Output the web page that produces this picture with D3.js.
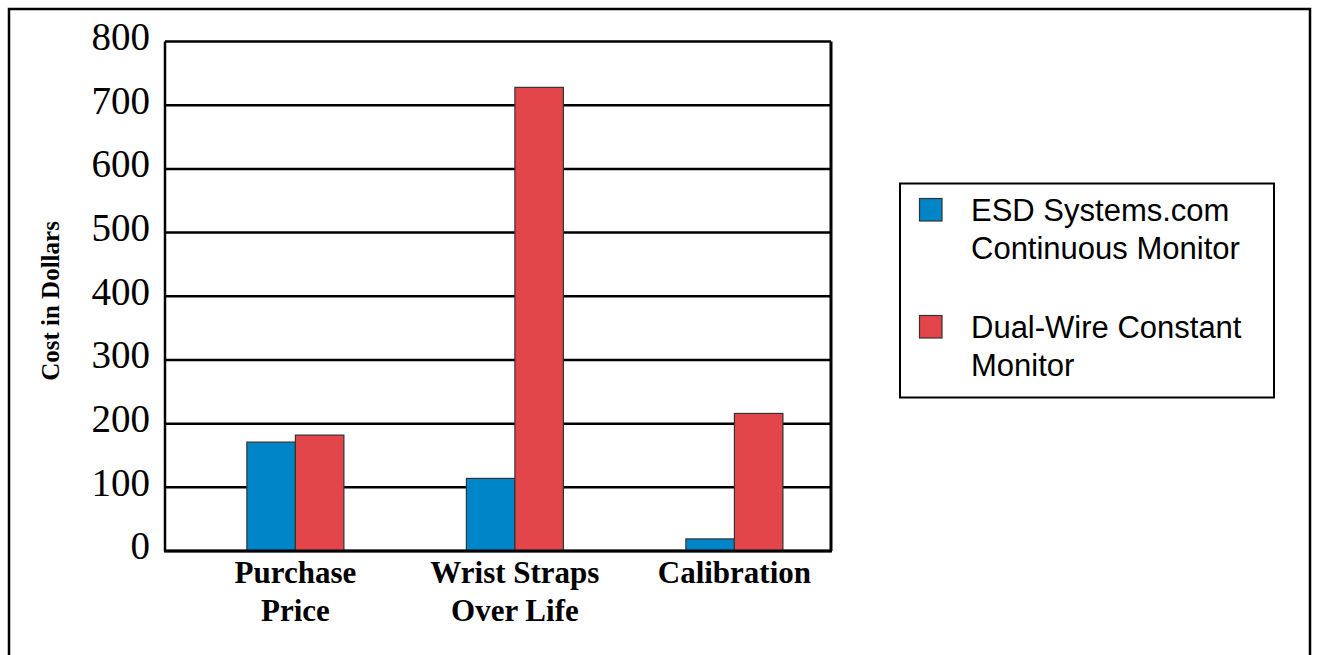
<!DOCTYPE html>
<html>
<head>
<meta charset="utf-8">
<script src="https://cdn.jsdelivr.net/npm/d3@7"></script>
<style>
  body { margin: 0; background: white; }
</style>
</head>
<body>
<svg width="1319" height="655"></svg>
<script>
const categories = [["Purchase", "Price"], ["Wrist Straps", "Over Life"], ["Calibration"]]
const seriesNames = [["ESD Systems.com", "Continuous Monitor"], ["Dual-Wire Constant", "Monitor"]]
const esdValues = [171, 114, 19]
const dualWireValues = [182, 728, 216]
const yTicks = [0, 100, 200, 300, 400, 500, 600, 700, 800]
const colors = ['#0085c9', '#e3464a']

const svg = d3.select('svg')
const width = +svg.attr('width')
const height = +svg.attr('height')

// outer frame (bottom edge runs off the page)
svg.append('rect')
    .attr('x', 9).attr('y', 9)
    .attr('width', width - 18).attr('height', height + 10)
    .attr('fill', 'white').attr('stroke', 'black').attr('stroke-width', 2.5)

const margin = {top: 41.5, left: 165, right: 488, bottom: 104}
const innerWidth = width - margin.left - margin.right
const innerHeight = height - margin.top - margin.bottom

const catKeys = categories.map(c => c.join(' '))
const data = catKeys.map((k, i) => ({key: k, values: [esdValues[i], dualWireValues[i]]}))

const xScale = d3.scaleBand()
    .domain(catKeys)
    .range([0, innerWidth])
    .paddingInner(0.558)
    .paddingOuter(0.296)
    .align(0.63)

const subScale = d3.scaleBand()
    .domain([0, 1])
    .range([0, xScale.bandwidth()])

const yScale = d3.scaleLinear()
    .domain([0, 800])
    .range([innerHeight, 0])

const g = svg.append('g')
    .attr('transform', `translate(${margin.left},${margin.top})`)

// gridlines
g.append('g').selectAll('line')
    .data(yTicks)
    .enter().append('line')
    .attr('x1', 0).attr('x2', innerWidth)
    .attr('y1', d => yScale(d)).attr('y2', d => yScale(d))
    .attr('stroke', 'black').attr('stroke-width', 2.5)

// bars
const groups = g.selectAll('.grp')
    .data(data)
    .enter().append('g')
    .attr('transform', d => `translate(${xScale(d.key)},0)`)

groups.selectAll('rect')
    .data(d => d.values)
    .enter().append('rect')
    .attr('x', (d, i) => subScale(i))
    .attr('y', d => yScale(d))
    .attr('width', subScale.bandwidth())
    .attr('height', d => innerHeight - yScale(d))
    .attr('fill', (d, i) => colors[i])
    .attr('stroke', '#333').attr('stroke-width', 1.2)

// frame: left and right sides
g.append('line').attr('x1', 0).attr('x2', 0).attr('y1', 0).attr('y2', innerHeight)
    .attr('stroke', 'black').attr('stroke-width', 2.5)
g.append('line').attr('x1', innerWidth).attr('x2', innerWidth).attr('y1', 0).attr('y2', innerHeight)
    .attr('stroke', 'black').attr('stroke-width', 3)
g.append('line').attr('x1', -1).attr('x2', innerWidth + 1).attr('y1', innerHeight).attr('y2', innerHeight)
    .attr('stroke', 'black').attr('stroke-width', 3)

// y tick labels
const yAxis = g.append('g').call(d3.axisLeft(yScale).tickValues(yTicks).tickSize(0).tickPadding(15))
yAxis.select('.domain').remove()
yAxis.selectAll('text')
    .attr('font-family', '"Liberation Serif", "Times New Roman", serif')
    .attr('font-size', 39)
    .attr('fill', 'black')
    .attr('dy', '0.2em')

// x category labels
const xLabels = g.append('g').selectAll('text')
    .data(categories)
    .enter().append('text')
    .attr('x', (d, i) => xScale(catKeys[i]) + xScale.bandwidth() / 2)
    .attr('y', innerHeight + 32)
    .attr('text-anchor', 'middle')
    .attr('font-family', '"Liberation Serif", "Times New Roman", serif')
    .attr('font-weight', 'bold')
    .attr('font-size', 31)
xLabels.selectAll('tspan')
    .data(d => d)
    .enter().append('tspan')
    .attr('x', function() { return d3.select(this.parentNode).attr('x') })
    .attr('dy', (d, i) => i === 0 ? 0 : 38)
    .text(d => d)

// y axis title
svg.append('text')
    .attr('transform', 'translate(59,301) rotate(-90)')
    .attr('text-anchor', 'middle')
    .attr('font-family', '"Liberation Serif", "Times New Roman", serif')
    .attr('font-weight', 'bold')
    .attr('font-size', 25)
    .text('Cost in Dollars')

// legend
const legend = svg.append('g')
legend.append('rect')
    .attr('x', 900).attr('y', 183.5)
    .attr('width', 374).attr('height', 214)
    .attr('fill', 'white').attr('stroke', 'black').attr('stroke-width', 2)

const items = legend.selectAll('.item')
    .data(seriesNames)
    .enter().append('g')
    .attr('transform', (d, i) => `translate(0,${i * 117})`)

items.append('rect')
    .attr('x', 919.5).attr('y', 198.5)
    .attr('width', 22.5).attr('height', 22.5)
    .attr('fill', (d, i) => colors[i])
    .attr('stroke', '#333').attr('stroke-width', 1.2)

items.append('text')
    .attr('font-family', '"Liberation Sans", Arial, sans-serif')
    .attr('font-size', 31)
    .attr('fill', 'black')
    .selectAll('tspan')
    .data(d => d)
    .enter().append('tspan')
    .attr('x', 971)
    .attr('y', (d, i) => 221 + i * 37.5)
    .text(d => d)
</script>
</body>
</html>
